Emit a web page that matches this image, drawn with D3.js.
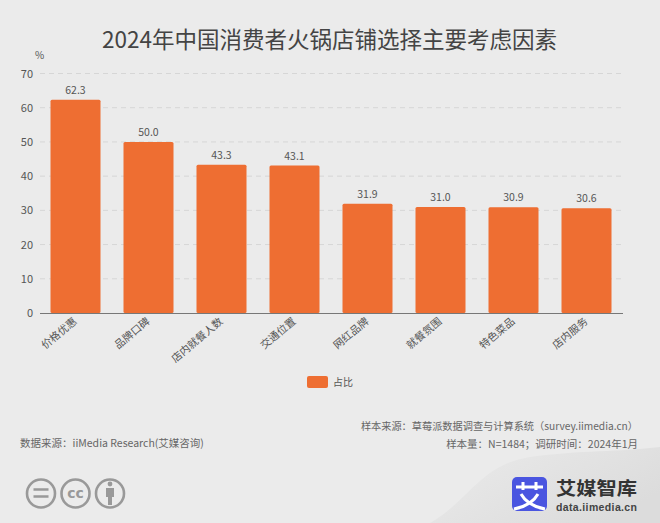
<!DOCTYPE html>
<html><head><meta charset="utf-8">
<script src="https://cdn.jsdelivr.net/npm/d3@7/dist/d3.min.js"></script>
<style>html,body{margin:0;padding:0;background:#ebebeb;overflow:hidden}svg{display:block}
text{font-family:"Noto Sans CJK SC","Noto Sans",sans-serif}</style></head><body>
<svg id="c" width="660" height="523"></svg>
<script>
const categories=["价格优惠","品牌口碑","店内就餐人数","交通位置","网红品牌","就餐氛围","特色菜品","店内服务"];
const values=[62.3,50.0,43.3,43.1,31.9,31.0,30.9,30.6];
const yTicks=[0,10,20,30,40,50,60,70];
const title="2024年中国消费者火锅店铺选择主要考虑因素";
const seriesName="占比";
const unit="%";
const sourceLeft="数据来源：iiMedia Research(艾媒咨询)";
const sourceRight=["样本来源：草莓派数据调查与计算系统（survey.iimedia.cn）","样本量：N=1484；调研时间：2024年1月"];

const svg=d3.select("#c");
const W=660,H=523,orange="#ee6e32",txt="#555";
const defs=svg.append("defs");
const g1=defs.append("linearGradient").attr("id","sw").attr("x1",0).attr("y1",0).attr("x2",1).attr("y2",.6);
g1.append("stop").attr("offset",0).attr("stop-color","#ebebeb");
g1.append("stop").attr("offset",1).attr("stop-color","#dcdcdc");
svg.append("rect").attr("width",W).attr("height",H).attr("fill","#ebebeb");
svg.append("path").attr("d","M430,523 C470,500 480,465 530,457 C580,450 620,452 660,447 L660,523 Z").attr("fill","url(#sw)");

svg.append("text").attr("x",329.5).attr("y",48).attr("text-anchor","middle").attr("font-size",22.5).attr("fill","#444").text(title);

const x=d3.scaleBand().domain(categories).range([39,623]).paddingInner(23/73).paddingOuter(11.5/73);
const y=d3.scaleLinear().domain([0,70]).range([313,73.5]);

const grid=svg.append("g");
grid.selectAll("line").data(yTicks.filter(d=>d>0)).join("line")
 .attr("x1",40).attr("x2",623).attr("y1",d=>y(d)).attr("y2",d=>y(d))
 .attr("stroke","#d6d6d6").attr("stroke-width",1).attr("stroke-dasharray","5,4");

svg.selectAll("rect.bar").data(categories).join("rect").attr("class","bar")
 .attr("x",d=>x(d)).attr("width",x.bandwidth())
 .attr("y",(d,i)=>y(values[i])).attr("height",(d,i)=>y(0)-y(values[i]))
 .attr("rx",1.5).attr("fill",orange);

svg.selectAll("text.val").data(values).join("text").attr("class","val")
 .attr("x",(d,i)=>x(categories[i])+x.bandwidth()/2).attr("y",d=>y(d)-6)
 .attr("text-anchor","middle").attr("font-size",10.5).attr("fill",txt).text(d=>d.toFixed(1));

const yAxis=svg.append("g").attr("transform","translate(40,0)")
 .call(d3.axisLeft(y).tickValues(yTicks).tickSize(0).tickPadding(7));
yAxis.select(".domain").remove();
yAxis.selectAll("text").attr("font-size",11).attr("fill",txt).style("font-family",'"Noto Sans CJK SC","Noto Sans",sans-serif');

const xAxis=svg.append("g").attr("transform","translate(0,313.5)")
 .call(d3.axisBottom(x).tickSize(0).tickPadding(0));
xAxis.select(".domain").attr("d","M40,0H623").attr("stroke","#777").attr("stroke-width",1);
xAxis.selectAll("text").attr("font-size",10.5).attr("fill",txt)
 .style("font-family",'"Noto Sans CJK SC","Noto Sans",sans-serif')
 .attr("text-anchor","end").attr("dy",0).attr("y",0)
 .attr("transform","translate(2,9) rotate(-40)");

svg.append("text").attr("x",35).attr("y",59).attr("font-size",10).attr("fill",txt).text(unit);

svg.append("rect").attr("x",307).attr("y",376).attr("width",21).attr("height",12).attr("rx",2).attr("fill",orange);
svg.append("text").attr("x",333).attr("y",385.5).attr("font-size",10).attr("fill",txt).text(seriesName);

svg.append("text").attr("x",20).attr("y",447).attr("font-size",10.5).attr("fill","#666").text(sourceLeft);
svg.append("text").attr("x",638).attr("y",430).attr("text-anchor","end").attr("font-size",10.2).attr("fill","#666").text(sourceRight[0]);
svg.append("text").attr("x",638).attr("y",448).attr("text-anchor","end").attr("font-size",10.5).attr("fill","#666").text(sourceRight[1]);

// licence icons
const ic=svg.append("g").attr("fill","none").attr("stroke","#999").attr("stroke-width",2.6);
[41,75.5,110].forEach(cx=>ic.append("circle").attr("cx",cx).attr("cy",493.5).attr("r",14));
ic.append("path").attr("d","M33.5,489.5H48.5M33.5,496.5H48.5").attr("stroke-width",2.4);
svg.append("text").attr("x",75.5).attr("y",498).attr("text-anchor","middle").attr("font-size",14).attr("font-weight",700).attr("fill","#999").style("font-family","'DejaVu Sans',sans-serif").text("cc");
svg.append("circle").attr("cx",110).attr("cy",484).attr("r",2.4).attr("fill","#999");
svg.append("path").attr("d","M106,488H114V497H112V505H108V497H106Z").attr("fill","#999");

// logo
svg.append("rect").attr("x",512).attr("y",477).attr("width",35).attr("height",34).attr("rx",5).attr("fill","#4a55e0");
const lg=svg.append("g").attr("fill","none").attr("stroke","#fff").attr("stroke-width",3);
lg.append("path").attr("d","M516,487H543M523,482V490M536,482V490");
lg.append("path").attr("d","M521,494C526,503 534,507 545,509M538,494C533,503 525,507 514,509");
svg.append("text").attr("x",556).attr("y",495).attr("font-size",18).attr("font-weight",700).attr("fill","#333").attr("textLength",81).attr("lengthAdjust","spacingAndGlyphs").text("艾媒智库");
svg.append("text").attr("x",556).attr("y",511).attr("font-size",10.5).attr("font-weight",700).attr("fill","#444").attr("textLength",81).style("font-family","'Liberation Sans',sans-serif").text("data.iimedia.cn");
</script></body></html>
